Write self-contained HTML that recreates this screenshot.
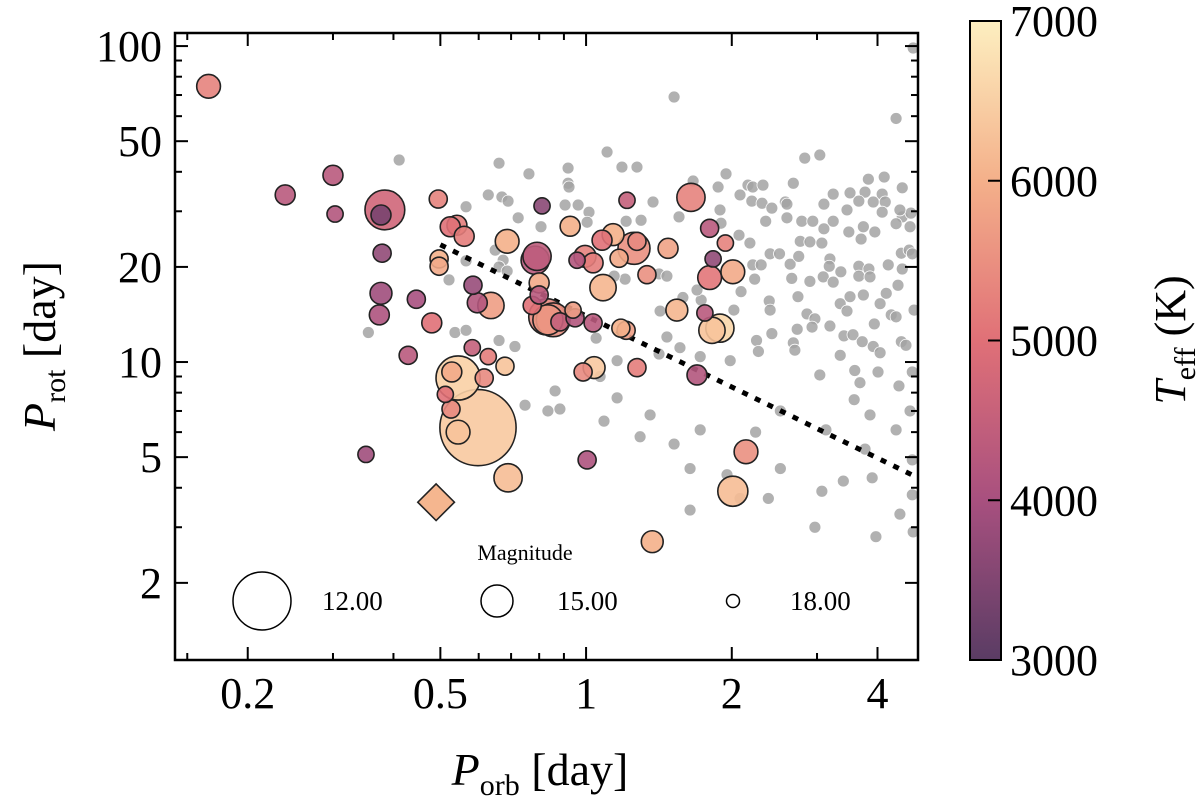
<!DOCTYPE html>
<html><head><meta charset="utf-8"><style>
html,body{margin:0;padding:0;background:#fff;}
svg{display:block;font-family:"Liberation Serif",serif;}
</style></head><body>
<svg id="chart" width="1200" height="798" viewBox="0 0 1200 798" xmlns="http://www.w3.org/2000/svg">
<defs>
<linearGradient id="cbgrad" x1="0" y1="1" x2="0" y2="0">
<stop offset="0" stop-color="#5a3c64"/><stop offset="0.25" stop-color="#a8507f"/><stop offset="0.5" stop-color="#e07077"/><stop offset="0.75" stop-color="#f4b08a"/><stop offset="1" stop-color="#fdefc0"/>
</linearGradient>
<clipPath id="plotclip"><rect x="175" y="33" width="743" height="627"/></clipPath>
</defs>
<g id="gray-layer" clip-path="url(#plotclip)"></g>
<g id="line-layer" clip-path="url(#plotclip)"></g>
<g id="color-layer" clip-path="url(#plotclip)"></g>
<g id="legend">
<text x="525" y="560" font-size="22" text-anchor="middle">Magnitude</text>
</g>
<g id="axes"></g>
<rect x="175" y="33" width="743" height="627" fill="none" stroke="#000" stroke-width="2.5"/>
<text x="540" y="785" font-size="46" text-anchor="middle"><tspan font-style="italic">P</tspan><tspan font-size="30" dy="10">orb</tspan><tspan dy="-10"> [day]</tspan></text>
<text transform="translate(55,346) rotate(-90)" font-size="46" text-anchor="middle"><tspan font-style="italic">P</tspan><tspan font-size="30" dy="10">rot</tspan><tspan dy="-10"> [day]</tspan></text>
<g id="colorbar">
<rect x="970" y="21" width="31" height="639" fill="url(#cbgrad)" stroke="#000" stroke-width="2"/>
</g>
<text transform="translate(1185,340) rotate(-90)" font-size="44" text-anchor="middle"><tspan font-style="italic">T</tspan><tspan font-size="30" dy="10">eff</tspan><tspan dy="-10"> (K)</tspan></text>
</svg>
<script>
const NS="http://www.w3.org/2000/svg";
// gray background sample
const grayPorb=[1.52,4.37,1.105,0.918,1.186,1.274,2.83,3.04,0.918,0.922,1.946,1.664,1.874,3.83,4.13,4.50,2.68,2.08,2.16,2.21,2.32,1.375,0.905,0.963,1.014,1.005,1.21,1.299,1.891,1.9,1.556,2.2,2.31,2.42,2.58,2.60,3.10,3.24,3.51,3.77,4.09,3.46,3.66,3.92,4.15,4.09,4.50,4.69,2.35,2.60,2.79,2.94,3.24,3.10,2.07,2.18,2.77,2.90,3.07,3.49,3.74,3.95,3.70,4.37,4.67,2.40,2.51,2.64,2.75,2.21,2.30,3.19,3.18,3.36,3.66,3.84,4.21,4.48,4.65,2.23,2.66,2.90,3.09,3.24,3.66,3.86,4.50,2.09,2.74,4.17,4.41,2.39,2.40,2.86,2.97,2.93,3.19,3.35,3.51,3.74,4.05,3.94,4.27,4.37,3.46,3.41,3.56,3.72,3.92,4.48,2.73,2.68,2.42,2.25,2.02,1.585,1.469,1.422,1.204,1.143,1.049,1.415,1.469,1.729,1.695,0.411,0.661,0.762,0.628,0.670,0.690,0.565,0.724,0.807,0.649,0.674,0.565,0.661,0.687,0.521,0.355,0.536,1.159,1.089,1.293,1.52,1.64,1.955,2.08,2.38,3.07,2.97,3.40,3.90,3.86,4.37,4.72,4.43,4.67,3.58,3.68,3.13,2.52,2.24,3.04,4.01,4.72,3.59,1.721,1.356,0.863,0.883,0.748,0.661,0.713,0.565,1.069,1.159,1.415,1.563,1.721,1.985,2.27,2.70,3.35,4.05,4.58,0.834,4.74,4.72,4.76,4.45,4.74,1.64,4.72,4.45,3.77,3.97,2.52];
const grayProt=[69,59,46.2,41.1,41.4,41.4,44.2,45.2,36.8,35.8,39.4,37.4,35.8,37.9,38.5,35.6,36.8,33.8,36.3,35.8,36.3,32.1,31.4,31.4,29.8,27.7,27.9,28.1,30.3,27.5,28.8,32.3,31.8,30.7,32.1,31.6,31.6,34.0,34.3,34.5,34.0,30.3,32.3,32.1,32.1,29.8,28.8,29.6,27.9,28.6,27.9,27.9,27.9,26.4,25.2,23.8,24.1,24.0,23.8,25.8,26.8,25.8,24.5,27.4,26.8,22.0,22.0,20.4,21.6,20.3,20.3,21.2,20.1,19.3,20.1,19.7,20.3,22.1,22.6,18.3,18.4,18.0,18.6,17.9,18.7,18.6,19.7,16.7,16.1,16.5,17.5,15.6,14.6,14.2,13.7,12.9,13.0,15.3,16.1,16.3,15.3,13.2,14.1,13.9,14.5,12.1,12.2,11.6,11.2,11.6,12.7,11.5,12.3,11.7,14.6,16.0,12.0,14.5,18.3,18.7,11.9,19.0,18.7,15.7,16.9,43.6,42.6,39.4,33.8,33.3,32.3,31.0,28.6,26.8,22.6,21.0,20.9,20.0,19.4,18.2,12.4,12.4,7.7,6.5,5.8,5.5,4.6,4.4,3.7,3.7,3.9,3.0,4.2,4.3,6.8,6.1,4.9,8.4,7.0,7.6,8.6,6.1,7.0,6.0,9.1,9.3,9.3,9.4,6.1,6.8,8.1,7.1,7.3,11.7,11.2,12.6,9.0,10.1,10.6,11.1,10.4,10.1,10.8,10.9,10.5,10.7,11.3,7.0,98.6,22.0,14.6,30.3,2.9,3.4,3.8,3.3,5.3,2.8,4.6];
// colored sample
const starPorb=[0.166,0.239,0.300,0.303,0.384,0.377,0.379,0.377,0.374,0.446,0.48,0.495,0.541,0.524,0.56,0.687,0.785,0.497,0.497,0.584,0.596,0.636,0.811,0.429,0.544,0.528,0.582,0.628,0.616,0.68,0.512,0.526,0.598,0.544,0.69,0.351,1.005,1.37,2.01,2.14,1.695,1.21,0.986,1.039,1.274,0.83,0.834,0.883,0.949,0.774,0.80,0.80,0.792,0.995,1.034,0.958,0.927,1.079,1.137,1.256,1.274,1.17,1.477,1.336,1.084,1.54,1.89,1.82,1.76,1.18,0.855,1.034,0.94,1.215,1.647,1.80,1.83,1.94,1.80,2.01];
const starProt=[74.6,33.8,39.0,29.4,30.3,29.2,22.1,16.5,14.1,15.8,13.3,32.8,27.1,26.8,25.0,24.1,21.0,21.2,20.1,17.5,15.4,15.1,31.2,10.5,8.9,9.3,11.1,10.4,8.9,9.7,7.9,7.1,6.2,6.0,4.3,5.1,4.9,2.7,3.9,5.2,9.1,12.6,9.3,9.6,9.6,13.9,13.6,13.4,13.8,15.1,17.8,16.3,21.6,21.6,20.6,21.0,26.9,24.3,25.3,22.9,24.1,21.3,22.9,18.9,17.2,14.6,12.8,12.6,14.3,12.8,13.6,13.3,14.6,32.5,33.2,26.5,21.2,23.8,18.5,19.3];
const starMag=[16.3,16.9,16.9,17.5,14.1,16.9,17.2,16.6,16.9,17.2,16.9,17.2,16.9,16.9,16.9,16.3,15.6,17.2,17.2,17.2,16.9,15.9,17.5,17.2,13.6,16.9,17.5,17.5,17.2,17.2,17.5,17.2,9.9,16.3,15.6,17.5,17.2,16.6,15.3,16.3,16.9,17.2,17.2,16.6,17.2,14.5,15.3,17.2,17.2,17.2,16.9,17.2,15.6,16.6,16.9,17.5,16.9,16.9,16.6,15.0,17.2,17.2,16.9,17.2,15.9,16.6,15.6,15.9,17.5,17.2,14.8,17.2,17.5,17.5,15.6,17.2,17.5,17.5,16.3,16.3];
const starTeff=[5300,4300,4300,4200,4700,3400,3700,3900,4100,4000,5000,5300,5200,5000,5200,6000,4300,6000,5900,3800,4200,5700,3600,4300,6500,5900,4500,5200,5400,6300,5000,5400,6400,6300,6200,3900,4100,6000,6200,5500,4200,5700,5400,6400,5200,5400,5600,4500,4200,5000,5900,4300,4400,5300,5200,4200,6000,5000,6000,5500,5400,5900,5800,5500,6100,6100,6600,6300,4300,6000,5500,4300,5700,4500,5300,4300,3700,5300,5100,5900];
// special diamond target
const specialPorb=[0.49], specialProt=[3.6], specialMag=[15.6], specialTeff=[6100];
// trend line endpoints
const linePorb=[0.5,4.85], lineProt=[23.5,4.3];
// axis ticks
const xMajor=[0.2,0.5,1,2,4], xMajorLabels=["0.2","0.5","1","2","4"];
const xMinor=[0.15,0.3,0.4,0.6,0.7,0.8,0.9,3];
const yMajor=[2,5,10,20,50,100], yMajorLabels=["2","5","10","20","50","100"];
const yMinor=[3,4,6,7,8,9,30,40,60,70,80,90];
const cbTicks=[3000,4000,5000,6000,7000], cbLabels=["3000","4000","5000","6000","7000"];
const legendMags=[12,15,18], legendLabels=["12.00","15.00","18.00"];

const X0=175,X1=918,Y0=33,Y1=660;
const XMIN=Math.log10(0.1415),XMAX=Math.log10(4.85);
const YMIN=Math.log10(1.14),YMAX=Math.log10(110);
function xs(v){return X0+(Math.log10(v)-XMIN)/(XMAX-XMIN)*(X1-X0);}
function ys(v){return Y1-(Math.log10(v)-YMIN)/(YMAX-YMIN)*(Y1-Y0);}
function rs(m){ if(m<=15) return 16+(15-m)*13/3; return Math.max(2,16-(m-15)*9.5/3); }
const CB0=3000,CB1=7000,CBT=21,CBB=660;
function cbY(t){return CBB-(t-CB0)/(CB1-CB0)*(CBB-CBT);}
const stops=[[0,[90,60,100]],[0.25,[168,80,127]],[0.5,[224,112,119]],[0.75,[244,176,138]],[1,[253,239,192]]];
function cmap(t){let u=Math.max(0,Math.min(1,(t-CB0)/(CB1-CB0)));for(let i=0;i<stops.length-1;i++){const a=stops[i],b=stops[i+1];if(u<=b[0]){const f=(u-a[0])/(b[0]-a[0]);return 'rgb('+a[1].map((c,k)=>Math.round(c+(b[1][k]-c)*f)).join(',')+')';}}return 'rgb(253,239,192)';}
function mk(tag,attrs,parent){const e=document.createElementNS(NS,tag);for(const k in attrs)e.setAttribute(k,attrs[k]);parent.appendChild(e);return e;}

const gl=document.getElementById('gray-layer');
grayPorb.forEach((p,i)=>{
 const c=mk('circle',{cx:xs(p),cy:ys(grayProt[i]),r:6,fill:'#a3a3a3','fill-opacity':0.85,stroke:'#fff','stroke-width':0.8},gl);
 
 
});
const ll=document.getElementById('line-layer');
const ln=mk('line',{x1:xs(linePorb[0]),y1:ys(lineProt[0]),x2:xs(linePorb[1]),y2:ys(lineProt[1]),stroke:'#000','stroke-width':5,'stroke-dasharray':'6 8'},ll);



const cl=document.getElementById('color-layer');
const order=starMag.map((m,i)=>i).sort((a,b)=>starMag[a]-starMag[b]);
order.forEach(i=>{
 const c=mk('circle',{cx:xs(starPorb[i]),cy:ys(starProt[i]),r:rs(starMag[i]),fill:cmap(starTeff[i]),'fill-opacity':0.9,stroke:'#222','stroke-width':1.6},cl);
 
 
});
specialPorb.forEach((p,i)=>{
 const cx=xs(p),cy=ys(specialProt[i]),r=rs(specialMag[i])*1.3;
 const d=mk('polygon',{points:`${cx},${cy-r} ${cx+r},${cy} ${cx},${cy+r} ${cx-r},${cy}`,fill:cmap(specialTeff[i]),stroke:'#222','stroke-width':1.6},cl);
 
 
});

const lg=document.getElementById('legend');
const legX=[262,497,733], legTX=[322,557,790];
legendMags.forEach((m,i)=>{
 const c=mk('circle',{cx:legX[i],cy:601,r:rs(m),fill:'none',stroke:'#000','stroke-width':1.5},lg);
 
 
 const t=mk('text',{x:legTX[i],y:610,'font-size':27},lg);
 t.textContent=legendLabels[i];
 
 
});

const ax=document.getElementById('axes');
function tk(x1,y1,x2,y2){const l=mk('line',{x1,y1,x2,y2,stroke:'#000','stroke-width':2},ax);}
xMajor.forEach((v,i)=>{const x=xs(v);tk(x,Y1,x,Y1-13);tk(x,Y0,x,Y0+13);
 const t=mk('text',{x:x,y:708,'font-size':44,'text-anchor':'middle'},ax);t.textContent=xMajorLabels[i];
 
 });
xMinor.forEach(v=>{const x=xs(v);if(x>X0&&x<X1){tk(x,Y1,x,Y1-7);tk(x,Y0,x,Y0+7);}});
yMajor.forEach((v,i)=>{const y=ys(v);tk(X0,y,X0+13,y);tk(X1,y,X1-13,y);
 const t=mk('text',{x:162,y:y+15,'font-size':44,'text-anchor':'end'},ax);t.textContent=yMajorLabels[i];
 
 });
yMinor.forEach(v=>{const y=ys(v);if(y>Y0&&y<Y1){tk(X0,y,X0+7,y);tk(X1,y,X1-7,y);}});

const cb=document.getElementById('colorbar');
cbTicks.forEach((v,i)=>{const y=cbY(v);
 if(v>CB0&&v<CB1){const l=mk('line',{x1:988,y1:y,x2:1001,y2:y,stroke:'#000','stroke-width':2},cb);}
 const t=mk('text',{x:1010,y:y+15,'font-size':44},cb);t.textContent=cbLabels[i];
 
 });
</script>
</body></html>
